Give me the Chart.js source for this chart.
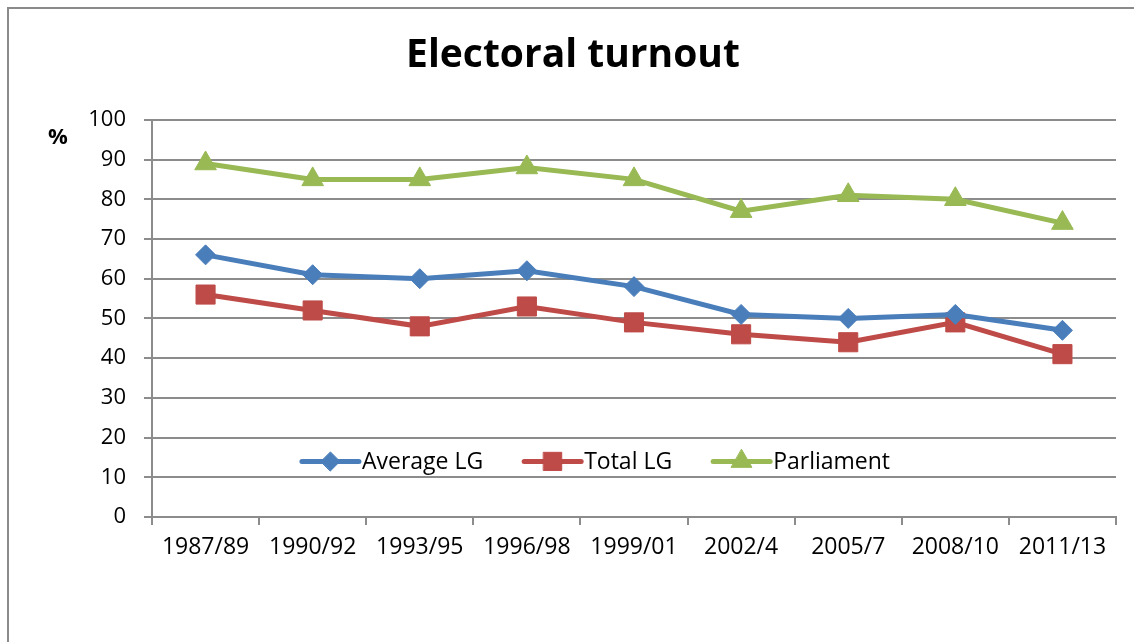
<!DOCTYPE html>
<html>
<head>
<meta charset="utf-8">
<script src="https://cdn.jsdelivr.net/npm/chart.js@4/dist/chart.umd.min.js"></script>
<style>
  html, body { margin: 0; padding: 0; background: #fff; overflow: hidden; }
  #wrap { position: relative; width: 1134px; height: 642px; }
</style>
</head>
<body>
<div id="wrap"><canvas id="c" width="1134" height="642"></canvas></div>
<script>
// Election periods
const categories = ['1987/89', '1990/92', '1993/95', '1996/98', '1999/01', '2002/4', '2005/7', '2008/10', '2011/13'];
// Turnout in percent
const averageLG = [66, 61, 60, 62, 58, 51, 50, 51, 47];
const totalLG = [56, 52, 48, 53, 49, 46, 44, 49, 41];
const parliament = [89, 85, 85, 88, 85, 77, 81, 80, 74];
const yTicks = [0, 10, 20, 30, 40, 50, 60, 70, 80, 90, 100];

const FONT = '"Open Sans", Lato, sans-serif';
const GRID = '#8c8c8c';

// Outer frame of the chart
const framePlugin = {
  id: 'frame',
  beforeDraw(chart) {
    const ctx = chart.ctx;
    ctx.save();
    ctx.strokeStyle = '#8a8a8a';
    ctx.lineWidth = 2;
    ctx.strokeRect(8, 8, chart.width + 40, chart.height + 40);
    ctx.restore();
  }
};

// "%" unit label beside the value axis
const unitPlugin = {
  id: 'unit',
  afterDraw(chart) {
    const ctx = chart.ctx;
    const y = chart.scales.y;
    ctx.save();
    ctx.font = 'bold 22px ' + FONT;
    ctx.fillStyle = '#000';
    ctx.textAlign = 'center';
    ctx.textBaseline = 'middle';
    ctx.fillText('%', 58, y.getPixelForValue(95.5));
    ctx.restore();
  }
};

// Legend drawn inside the plot area
const innerLegend = {
  id: 'innerLegend',
  afterDatasetsDraw(chart) {
    const ctx = chart.ctx;
    const yPos = chart.scales.y.getPixelForValue(14);
    const lineLen = 57, gapText = 3, gapItem = 41;
    ctx.save();
    ctx.font = '23px ' + FONT;
    const items = chart.data.datasets.map(ds => ({ ds, w: lineLen + gapText + ctx.measureText(ds.label).width }));
    const total = items.reduce((s, it) => s + it.w, 0) + gapItem * (items.length - 1);
    let x = 596 - total / 2;
    items.forEach(it => {
      const ds = it.ds;
      ctx.strokeStyle = ds.borderColor;
      ctx.lineWidth = ds.borderWidth;
      ctx.lineCap = 'round';
      ctx.beginPath();
      ctx.moveTo(x, yPos);
      ctx.lineTo(x + lineLen, yPos);
      ctx.stroke();
      ctx.fillStyle = ds.pointBackgroundColor;
      ctx.strokeStyle = ds.pointBackgroundColor;
      ctx.lineWidth = 1;
      Chart.helpers.drawPoint(ctx, { pointStyle: ds.pointStyle, radius: ds.pointRadius * 0.95, borderWidth: 1, rotation: 0 }, x + lineLen / 2, yPos);
      ctx.fillStyle = '#000';
      ctx.textAlign = 'left';
      ctx.textBaseline = 'middle';
      ctx.fillText(ds.label, x + lineLen + gapText, yPos + 1);
      x += it.w + gapItem;
    });
    ctx.restore();
  }
};

function series(label, data, color, style, radius) {
  return {
    label, data,
    borderColor: color,
    backgroundColor: color,
    borderWidth: 5,
    pointStyle: style,
    pointRadius: radius,
    pointHoverRadius: radius,
    pointBackgroundColor: color,
    pointBorderColor: color,
    pointBorderWidth: 1,
    tension: 0,
    fill: false
  };
}

new Chart(document.getElementById('c'), {
  type: 'line',
  data: {
    labels: categories,
    datasets: [
      series('Average LG', averageLG, '#4a7ebb', 'rectRot', 10),
      series('Total LG', totalLG, '#be4b48', 'rect', 13.5),
      series('Parliament', parliament, '#98b954', 'triangle', 12.5)
    ]
  },
  options: {
    responsive: false,
    animation: false,
    events: [],
    layout: { padding: { left: 12, right: 0, top: 0, bottom: 0 } },
    plugins: {
      legend: { display: false },
      tooltip: { enabled: false },
      title: {
        display: true,
        text: 'Electoral turnout',
        color: '#000',
        font: { family: FONT, size: 39, weight: 'bold', lineHeight: 1.2 },
        padding: { top: 32, bottom: 41 }
      }
    },
    scales: {
      x: {
        offset: true,
        grid: { offset: true, drawOnChartArea: false, drawTicks: true, tickLength: 8, color: GRID, lineWidth: 2 },
        border: { color: GRID, width: 2 },
        ticks: { color: '#000', font: { family: FONT, size: 23 }, padding: 9, maxRotation: 0, autoSkip: false },
        afterFit(scale) { scale.height = 125; }
      },
      y: {
        min: 0, max: 100,
        afterBuildTicks(scale) { scale.ticks = yTicks.map(v => ({ value: v })); },
        grid: { color: GRID, lineWidth: 2, tickLength: 8 },
        border: { color: GRID, width: 2 },
        ticks: { color: '#000', font: { family: FONT, size: 22 }, padding: 18 },
        afterFit(scale) { scale.width = 140; }
      },
      // empty right-hand margin beside the plot
      yRight: {
        position: 'right',
        display: true,
        grid: { display: false, drawOnChartArea: false },
        border: { display: false },
        ticks: { display: false },
        afterFit(scale) { scale.width = 18; }
      }
    }
  },
  plugins: [framePlugin, unitPlugin, innerLegend]
});
</script>
</body>
</html>
